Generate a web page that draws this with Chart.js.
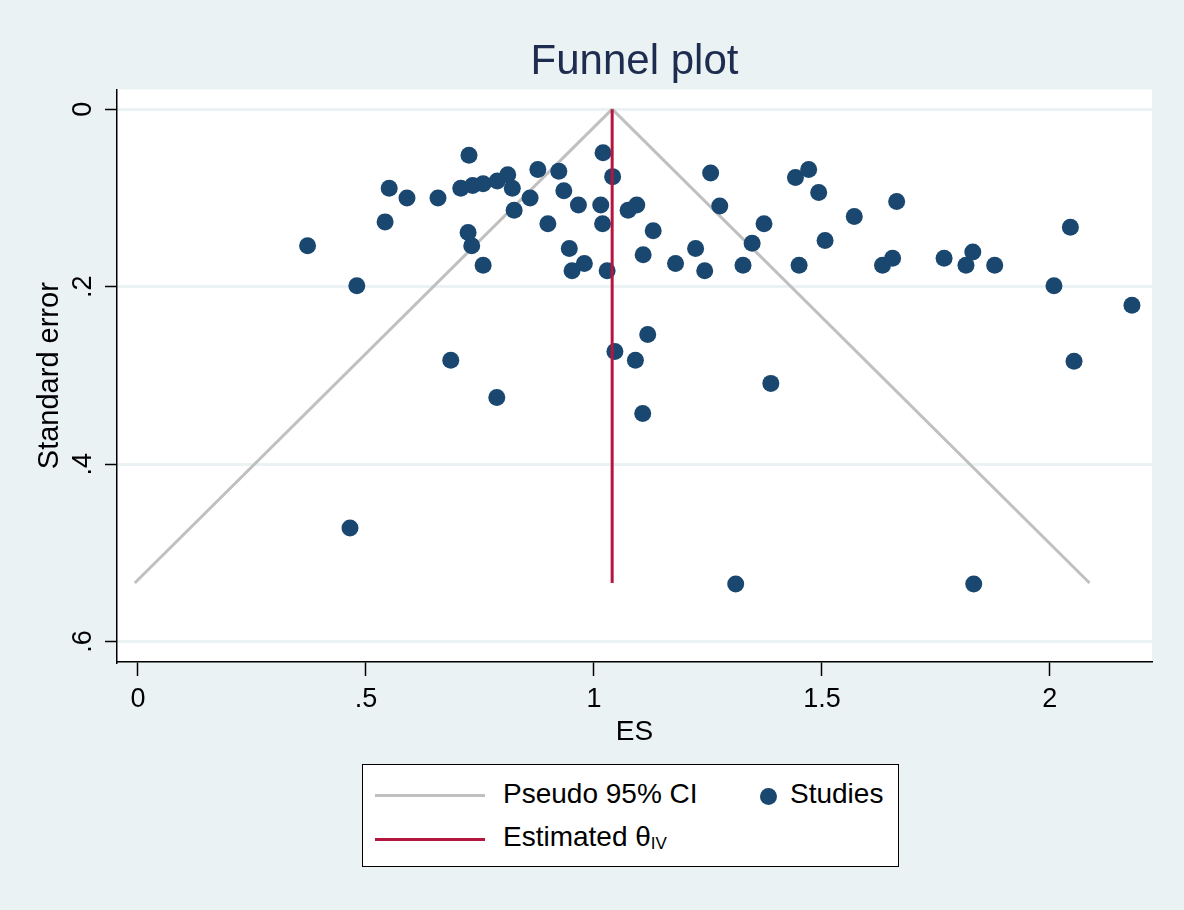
<!DOCTYPE html>
<html>
<head>
<meta charset="utf-8">
<title>Funnel plot</title>
<script src="https://cdn.jsdelivr.net/npm/chart.js@4.4.1/dist/chart.umd.min.js"></script>
<style>
  body { margin: 0; background: #eaf2f3; font-family: "Liberation Sans", Arial, sans-serif; }
  #wrap { position: relative; width: 1184px; height: 910px; }
  #legend {
    position: absolute; left: 362px; top: 764px; width: 535px; height: 101px;
    background: #fff; border: 1.5px solid #000; font-size: 28px; color: #000;
  }
  .item { position: absolute; white-space: nowrap; }
  .swatch { position: absolute; height: 3px; width: 110px; }
  .dot { position: absolute; width: 17px; height: 17px; border-radius: 50%; background: #1a476f; }
  sub { font-size: 17px; vertical-align: -3px; }
</style>
</head>
<body>
<div id="wrap">
  <canvas id="funnel" width="1184" height="910"></canvas>
  <div id="legend">
    <div class="swatch" style="left:12px; top:29px; background:#c0c0c0;"></div>
    <div class="item" style="left:140px; top:13px;">Pseudo 95% CI</div>
    <div class="dot" style="left:397px; top:23px;"></div>
    <div class="item" style="left:427px; top:13px;">Studies</div>
    <div class="swatch" style="left:12px; top:73px; background:#b5163f;"></div>
    <div class="item" style="left:140px; top:56px;">Estimated θ<sub>IV</sub></div>
  </div>
</div>
<script>
// Datos
const studyES = [0.372, 0.465, 0.480, 0.542, 0.551, 0.590, 0.658, 0.686, 0.708, 0.726,
                 0.724, 0.732, 0.734, 0.757, 0.757, 0.787, 0.788, 0.811, 0.821, 0.825,
                 0.860, 0.877, 0.899, 0.923, 0.934, 0.946, 0.952, 0.966, 0.979, 1.015,
                 1.020, 1.019, 1.029, 1.041, 1.046, 1.075, 1.094, 1.091, 1.108, 1.107,
                 1.118, 1.130, 1.179, 1.223, 1.243, 1.256, 1.276, 1.311, 1.327, 1.347,
                 1.373, 1.388, 1.442, 1.450, 1.471, 1.493, 1.507, 1.571, 1.633, 1.655,
                 1.664, 1.768, 1.816, 1.831, 1.833, 1.879, 2.009, 2.045, 2.053, 2.180];
const studySE = [0.154, 0.472, 0.199, 0.127, 0.089, 0.100, 0.100, 0.283, 0.089, 0.052,
                 0.139, 0.154, 0.086, 0.084, 0.176, 0.325, 0.081, 0.074, 0.089, 0.114,
                 0.100, 0.068, 0.129, 0.070, 0.092, 0.157, 0.182, 0.108, 0.174, 0.108,
                 0.049, 0.129, 0.182, 0.076, 0.273, 0.114, 0.108, 0.283, 0.164, 0.343,
                 0.254, 0.137, 0.174, 0.157, 0.182, 0.072, 0.109, 0.535, 0.176, 0.151,
                 0.129, 0.309, 0.077, 0.176, 0.068, 0.094, 0.148, 0.121, 0.176, 0.168,
                 0.104, 0.168, 0.176, 0.161, 0.535, 0.176, 0.199, 0.133, 0.284, 0.221];

// Líneas del embudo (pseudo IC 95%) y estimación
const ciSE = [0, 0.534];
const ciLowerES = [1.040, -0.007];
const ciUpperES = [1.040, 2.087];
const thetaES = [1.040, 1.040];

// Ticks
const xTicks = [0, 0.5, 1, 1.5, 2];
const xTickLabels = ['0', '.5', '1', '1.5', '2'];
const yTicks = [0, 0.2, 0.4, 0.6];
const yTickLabels = ['0', '.2', '.4', '.6'];

const toPoints = (xs, ys) => xs.map((x, i) => ({ x: x, y: ys[i] }));

// Fondo del área de trazado y etiquetas rotadas del eje Y
const stataLook = {
  id: 'stataLook',
  beforeDraw(chart) {
    const { ctx, chartArea: a } = chart;
    ctx.save();
    ctx.fillStyle = '#ffffff';
    ctx.fillRect(a.left, a.top, a.right - a.left, a.bottom - a.top);
    ctx.restore();
  },
  afterDraw(chart) {
    const { ctx } = chart;
    const yScale = chart.scales.y;
    ctx.save();
    ctx.fillStyle = '#000';
    ctx.font = '27px "Liberation Sans", Arial, sans-serif';
    ctx.textAlign = 'center';
    ctx.textBaseline = 'alphabetic';
    yTicks.forEach((v, i) => {
      ctx.save();
      ctx.translate(91, yScale.getPixelForValue(v));
      ctx.rotate(-Math.PI / 2);
      ctx.fillText(yTickLabels[i], 0, 0);
      ctx.restore();
    });
    ctx.restore();
  }
};

const ctx = document.getElementById('funnel').getContext('2d');
const funnelChart = new Chart(ctx, {
  type: 'scatter',
  data: {
    datasets: [
      {
        label: 'Estimated θIV',
        type: 'line',
        data: toPoints(thetaES, ciSE),
        borderColor: '#b5163f',
        borderWidth: 3,
        pointRadius: 0,
        fill: false,
        order: 0
      },
      {
        label: 'Studies',
        data: toPoints(studyES, studySE),
        backgroundColor: '#1a476f',
        borderWidth: 0,
        pointRadius: 8.5,
        order: 1
      },
      {
        label: 'Pseudo 95% CI',
        type: 'line',
        data: toPoints(ciLowerES, ciSE),
        borderColor: '#c0c0c0',
        borderWidth: 3,
        pointRadius: 0,
        fill: false,
        order: 2
      },
      {
        label: 'Pseudo 95% CI upper',
        type: 'line',
        data: toPoints(ciUpperES, ciSE),
        borderColor: '#c0c0c0',
        borderWidth: 3,
        pointRadius: 0,
        fill: false,
        order: 2
      }
    ]
  },
  options: {
    responsive: false,
    animation: false,
    events: [],
    devicePixelRatio: 1,
    layout: { padding: { left: 0, right: 32, top: 0, bottom: 148 } },
    plugins: {
      legend: { display: false },
      tooltip: { enabled: false },
      title: {
        display: true,
        fullSize: false,
        text: 'Funnel plot',
        color: '#1e2c50',
        font: { size: 42, family: '"Liberation Sans", Arial, sans-serif', weight: 'normal' },
        padding: { top: 37, bottom: 2 }
      }
    },
    scales: {
      x: {
        type: 'linear',
        min: -0.046,
        max: 2.224,
        afterBuildTicks: (scale) => { scale.ticks = xTicks.map(v => ({ value: v })); },
        afterFit: (scale) => { scale.height = 100; },
        ticks: {
          callback: (value, index) => xTickLabels[index],
          color: '#000',
          padding: 7,
          maxRotation: 0,
          font: { size: 27, family: '"Liberation Sans", Arial, sans-serif' }
        },
        grid: { display: true, drawOnChartArea: false, drawTicks: true, tickLength: 14, tickColor: '#000', tickWidth: 1.5 },
        border: { display: true, color: '#000', width: 1.5 },
        title: {
          display: true,
          text: 'ES',
          color: '#000',
          font: { size: 28, family: '"Liberation Sans", Arial, sans-serif' },
          padding: { top: 0, bottom: 13 }
        }
      },
      y: {
        type: 'linear',
        reverse: true,
        min: -0.0223,
        max: 0.623,
        afterBuildTicks: (scale) => { scale.ticks = yTicks.map(v => ({ value: v })); },
        afterFit: (scale) => { scale.width = 117; },
        ticks: { display: false },
        grid: { display: true, color: '#eaf2f3', lineWidth: 3, drawTicks: true, tickLength: 12, tickColor: '#000', tickWidth: 1.5 },
        border: { display: true, color: '#000', width: 1.5 },
        title: {
          display: true,
          text: 'Standard error',
          color: '#000',
          font: { size: 29, family: '"Liberation Sans", Arial, sans-serif' },
          padding: { top: 33, bottom: 0 }
        }
      }
    }
  },
  plugins: [stataLook]
});
</script>
</body>
</html>
